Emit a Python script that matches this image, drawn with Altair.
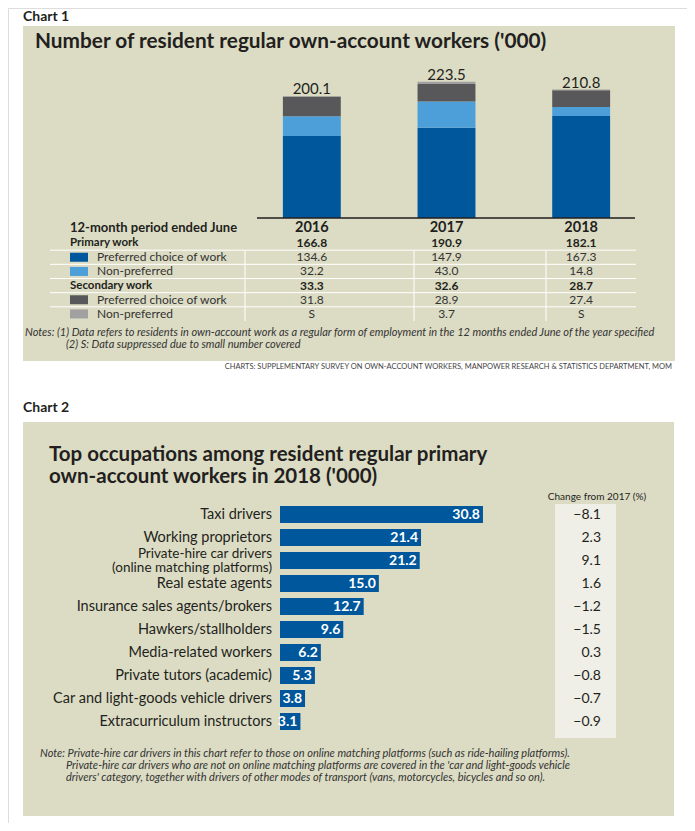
import altair as alt
import pandas as pd

# ---------------- data ----------------
years = ["2016", "2017", "2018"]
totals = [200.1, 223.5, 210.8]
primary_total = [166.8, 190.9, 182.1]
primary_pref = [134.6, 147.9, 167.3]
primary_nonpref = [32.2, 43.0, 14.8]
secondary_total = [33.3, 32.6, 28.7]
secondary_pref = [31.8, 28.9, 27.4]
secondary_nonpref = [1.5, 3.7, 1.3]          # bar slivers (total minus the rest)
secondary_nonpref_label = ["S", "3.7", "S"]   # as printed in the table

series = ["Primary preferred", "Primary non-preferred",
          "Secondary preferred", "Secondary non-preferred"]
series_colors = ["#00579B", "#4C9FD9", "#58585A", "#A0A0A0"]

occupations = ["Taxi drivers", "Working proprietors",
               "Private-hire car drivers\n(online matching platforms)",
               "Real estate agents", "Insurance sales agents/brokers",
               "Hawkers/stallholders", "Media-related workers",
               "Private tutors (academic)", "Car and light-goods vehicle drivers",
               "Extracurriculum instructors"]
occ_values = [30.8, 21.4, 21.2, 15.0, 12.7, 9.6, 6.2, 5.3, 3.8, 3.1]
occ_change = [-8.1, 2.3, 9.1, 1.6, -1.2, -1.5, 0.3, -0.8, -0.7, -0.9]

row_ids = ["p", "pp", "pn", "s", "sp", "sn"]
row_labels = ["Primary work", "Preferred choice of work", "Non-preferred",
              "Secondary work", "Preferred choice of work", "Non-preferred"]

# ---------------- styles ----------------
FONT = "Lato"
BEIGE = "#DCDCC4"
INK = "#231F20"

one = pd.DataFrame({"k": [0]})

def label(text, x, y, **kw):
    kw.setdefault("font", FONT)
    kw.setdefault("color", INK)
    kw.setdefault("baseline", "middle")
    kw.setdefault("align", "left")
    return alt.Chart(one).mark_text(text=text, **kw).encode(x=alt.value(x), y=alt.value(y))

def box(x, x2, y, y2, color):
    return alt.Chart(one).mark_rect(color=color).encode(
        x=alt.value(x), x2=alt.value(x2), y=alt.value(y), y2=alt.value(y2))

def hline(x, x2, y, color, w=1):
    return alt.Chart(one).mark_rule(color=color, strokeWidth=w).encode(
        x=alt.value(x), x2=alt.value(x2), y=alt.value(y))

def vline(x, y, y2, color, w=1):
    return alt.Chart(one).mark_rule(color=color, strokeWidth=w).encode(
        x=alt.value(x), y=alt.value(y), y2=alt.value(y2))

# ---------------- chart 1 ----------------
bars_rows = []
for i, y in enumerate(years):
    for j, (s, v) in enumerate(zip(series, [primary_pref[i], primary_nonpref[i],
                                             secondary_pref[i], secondary_nonpref[i]])):
        bars_rows.append({"year": y, "series": s, "value": v, "order": j})
bars_df = pd.DataFrame(bars_rows)
tot_df = pd.DataFrame({"year": years, "total": totals})

xs = alt.Scale(domain=years, range=[236.5, 640.5], paddingInner=0.57, paddingOuter=0.285)
ys = alt.Scale(domain=[0, 250], range=[210, 57.5])
ser_scale = alt.Scale(domain=series, range=series_colors)

bars1 = alt.Chart(bars_df).mark_bar().encode(
    x=alt.X("year:N", scale=xs, axis=None),
    y=alt.Y("value:Q", stack="zero", scale=ys, axis=None),
    color=alt.Color("series:N", scale=ser_scale, legend=None),
    order=alt.Order("order:Q"),
)
tot_text = alt.Chart(tot_df).mark_text(baseline="alphabetic", dy=-1.5, fontSize=15, font=FONT, color=INK).encode(
    x=alt.X("year:N", scale=xs, axis=None),
    y=alt.Y("total:Q", scale=ys, axis=None),
    text=alt.Text("total:Q", format=".1f"),
)
year_head = alt.Chart(tot_df).mark_text(fontSize=14.5, font=FONT, fontWeight="bold", color=INK).encode(
    x=alt.X("year:N", scale=xs, axis=None),
    y=alt.value(220),
    text="year:N",
)

rs = alt.Scale(domain=row_ids, range=[228, 313], paddingInner=0, paddingOuter=0)
row_df = pd.DataFrame({
    "row": row_ids,
    "label": row_labels,
    "bold": [True, False, False, True, False, False],
})
swatch_df = pd.DataFrame({"row": ["pp", "pn", "sp", "sn"], "series": series})

group_lbl = alt.Chart(row_df[row_df.bold]).mark_text(
    align="left", fontSize=11.5, font=FONT, fontWeight="bold", color=INK).encode(
    x=alt.value(62), y=alt.Y("row:N", scale=rs, axis=None, bandPosition=0.5), text="label:N")
sub_lbl = alt.Chart(row_df[~row_df.bold]).mark_text(
    align="left", fontSize=12, font=FONT, color="#333333").encode(
    x=alt.value(89), y=alt.Y("row:N", scale=rs, axis=None, bandPosition=0.5), text="label:N")
swatches = alt.Chart(swatch_df).mark_point(shape="M-1,-0.5H1V0.5H-1Z", size=324, filled=True,
                                           opacity=1, strokeWidth=0).encode(
    x=alt.value(71), y=alt.Y("row:N", scale=rs, axis=None, bandPosition=0.5),
    color=alt.Color("series:N", scale=ser_scale, legend=None),
)

val_rows = []
for i, y in enumerate(years):
    vals = [f"{primary_total[i]:.1f}", f"{primary_pref[i]:.1f}", f"{primary_nonpref[i]:.1f}",
            f"{secondary_total[i]:.1f}", f"{secondary_pref[i]:.1f}", secondary_nonpref_label[i]]
    for r, v, b in zip(row_ids, vals, row_df.bold):
        val_rows.append({"year": y, "row": r, "text": v, "bold": b})
val_df = pd.DataFrame(val_rows)
vals_bold = alt.Chart(val_df[val_df.bold]).mark_text(fontSize=12, font=FONT, fontWeight="bold", color=INK).encode(
    x=alt.X("year:N", scale=xs, axis=None),
    y=alt.Y("row:N", scale=rs, axis=None, bandPosition=0.5), text="text:N")
vals_reg = alt.Chart(val_df[~val_df.bold]).mark_text(fontSize=12, font=FONT, color="#333333").encode(
    x=alt.X("year:N", scale=xs, axis=None),
    y=alt.Y("row:N", scale=rs, axis=None, bandPosition=0.5), text="text:N")
sep_df = pd.DataFrame({"row": row_ids[1:]})
seps = alt.Chart(sep_df).mark_rule(color="white", strokeWidth=1).encode(
    x=alt.value(42), x2=alt.value(628),
    y=alt.Y("row:N", scale=rs, axis=None, bandPosition=0))

NOTE = dict(fontSize=11, fontStyle="italic", color="#333333")

chart1 = [
    label("Chart 1", 15, 9, fontSize=14, fontWeight="bold"),
    box(15, 667, 18, 353, BEIGE),
    label("Number of resident regular own-account workers ('000)", 27, 34, fontSize=20.8, fontWeight="bold"),
    bars1, tot_text,
    hline(249, 627, 210, INK, 1.5),
    label("12-month period ended June", 62, 220, fontSize=13, fontWeight="bold"),
    year_head,
    seps,
    vline(237, 243, 313, "white"), vline(406, 243, 313, "white"), vline(538, 243, 313, "white"),
    swatches, group_lbl, sub_lbl, vals_bold, vals_reg,
    label("Notes:  (1) Data refers to residents in own-account work as a regular form of employment in the 12 months ended June of the year specified",
          17, 325, **NOTE),
    label("(2) S: Data suppressed due to small number covered", 58, 337, **NOTE),
    label("CHARTS: SUPPLEMENTARY SURVEY ON OWN-ACCOUNT WORKERS, MANPOWER RESEARCH & STATISTICS DEPARTMENT, MOM",
          664, 359, fontSize=7.5, align="right", color="#444444"),
]

# ---------------- chart 2 ----------------
occ_df = pd.DataFrame({"occ": occupations, "value": occ_values, "change": occ_change})
ox = alt.Scale(domain=[0, 40], range=[272, 535.6])
oy = alt.Scale(domain=occupations, range=[495, 725], paddingInner=0.26, paddingOuter=0.13)

bars2 = alt.Chart(occ_df).mark_bar(color="#00579B").encode(
    x=alt.X("value:Q", scale=ox, axis=None),
    y=alt.Y("occ:N", scale=oy, axis=None, sort=None),
)
bar_vals = alt.Chart(occ_df).mark_text(align="right", dx=-3, fontSize=14, font=FONT,
                                       fontWeight="bold", color="white").encode(
    x=alt.X("value:Q", scale=ox, axis=None),
    y=alt.Y("occ:N", scale=oy, axis=None, sort=None, bandPosition=0.5),
    text=alt.Text("value:Q", format=".1f"),
)
occ_lbls_1 = alt.Chart(occ_df).transform_filter(
    "indexof(datum.occ, '\\n') < 0"
).mark_text(align="right", fontSize=14.5, font=FONT, color=INK).encode(
    x=alt.value(264),
    y=alt.Y("occ:N", scale=oy, axis=None, sort=None, bandPosition=0.5),
    text="occ:N",
)
occ_lbls_2 = alt.Chart(occ_df).transform_filter(
    "indexof(datum.occ, '\\n') >= 0"
).mark_text(align="right", fontSize=13.5, font=FONT, color=INK,
            lineBreak="\n", lineHeight=14, dy=-7).encode(
    x=alt.value(264),
    y=alt.Y("occ:N", scale=oy, axis=None, sort=None, bandPosition=0.5),
    text="occ:N",
)
chg_vals = alt.Chart(occ_df).mark_text(align="right", fontSize=14, font=FONT, color=INK).encode(
    x=alt.value(593),
    y=alt.Y("occ:N", scale=oy, axis=None, sort=None, bandPosition=0.5),
    text=alt.Text("change:Q", format=".1f"),
)

chart2 = [
    label("Chart 2", 15, 400, fontSize=14, fontWeight="bold"),
    box(15, 666, 414, 808, BEIGE),
    label("Top occupations among resident regular primary", 41, 447, fontSize=20.5, fontWeight="bold"),
    label("own-account workers in 2018 ('000)", 41, 469, fontSize=20.5, fontWeight="bold"),
    box(547, 608, 496, 730, "#EFEFE7"),
    label("Change from 2017 (%)", 589, 489, fontSize=10, align="center"),
    bars2, bar_vals, occ_lbls_1, occ_lbls_2, chg_vals,
    label("Note: Private-hire car drivers in this chart refer to those on online matching platforms (such as ride-hailing platforms).",
          32, 746, **NOTE),
    label("Private-hire car drivers who are not on online matching platforms are covered in the 'car and light-goods vehicle",
          58, 758, **NOTE),
    label("drivers' category, together with drivers of other modes of transport (vans, motorcycles, bicycles and so on).",
          58, 770, **NOTE),
]

chart = alt.layer(*(chart1 + chart2)).resolve_scale(
    x="independent", y="independent", color="independent"
).properties(
    width=679, height=815, padding=0,
    autosize=alt.AutoSizeParams(type="none"),
).configure_view(stroke=None, strokeWidth=0).configure(background="white")

chart.save("out.html", embed_options={"renderer": "svg", "actions": False})
